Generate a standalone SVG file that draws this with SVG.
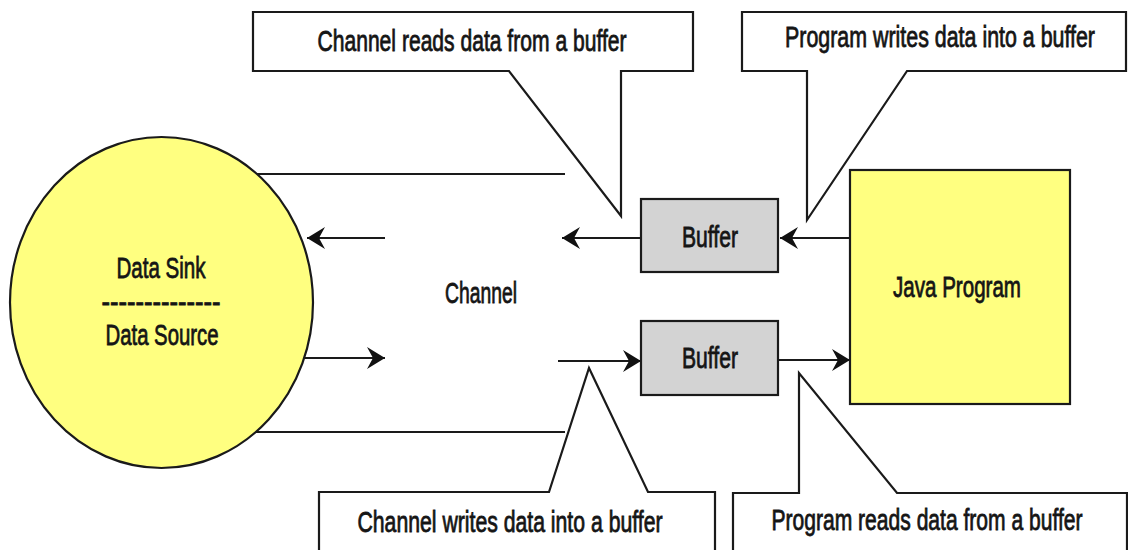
<svg xmlns="http://www.w3.org/2000/svg" width="1128" height="550" viewBox="0 0 1128 550">
<style>
.ln{stroke:#1a1a1a;stroke-width:2.2;fill:none}
.arr{marker-end:url(#ah)}
.co{fill:#ffffff;stroke:#1a1a1a;stroke-width:2.2;stroke-linejoin:miter}
.t{font-family:"Liberation Sans Narrow","Liberation Sans","DejaVu Sans Condensed",sans-serif;font-size:29px;fill:#151515;text-anchor:middle;stroke:#151515;stroke-width:0.8}
.yl{fill:#ffff80;stroke:#1a1a1a;stroke-width:2.2}
.gr{fill:#d3d3d3;stroke:#1a1a1a;stroke-width:2.2}
</style>
<defs>
<marker id="ah" markerUnits="userSpaceOnUse" viewBox="0 0 18 22" refX="18" refY="11" markerWidth="18" markerHeight="22" orient="auto">
<path d="M0,0 L18,11 L0,22 L6,11 Z" fill="#111"/>
</marker>
</defs>
<rect width="1128" height="550" fill="#ffffff"/>
<g id="connectors">
<line class="ln" x1="255" y1="174" x2="565" y2="174"/>
<line class="ln" x1="255" y1="432" x2="565" y2="432"/>
<line class="ln arr" x1="385" y1="238" x2="307" y2="238"/>
<line class="ln arr" x1="305" y1="358" x2="385" y2="358"/>
<line class="ln arr" x1="641" y1="238" x2="562" y2="238"/>
<line class="ln arr" x1="850" y1="238" x2="780" y2="238"/>
<line class="ln arr" x1="558" y1="361" x2="641" y2="361"/>
<line class="ln arr" x1="778" y1="360" x2="850" y2="360"/>
</g>
<g id="data-sink-source">
<ellipse class="yl" cx="161.5" cy="302.5" rx="151.5" ry="165.5"/>
<text class="t" x="161" y="278" textLength="89" lengthAdjust="spacingAndGlyphs">Data Sink</text>
<text class="t" x="161" y="312" textLength="119" lengthAdjust="spacingAndGlyphs">--------------</text>
<text class="t" x="162" y="345" textLength="113" lengthAdjust="spacingAndGlyphs">Data Source</text>
</g>
<g id="channel">
<text class="t" x="481" y="303" textLength="72" lengthAdjust="spacingAndGlyphs">Channel</text>
</g>
<g id="buffer-top">
<rect class="gr" x="641" y="199" width="137" height="73"/>
<text class="t" x="710" y="247" textLength="56" lengthAdjust="spacingAndGlyphs">Buffer</text>
</g>
<g id="buffer-bottom">
<rect class="gr" x="641" y="321" width="137" height="74"/>
<text class="t" x="710" y="368" textLength="56" lengthAdjust="spacingAndGlyphs">Buffer</text>
</g>
<g id="java-program">
<rect class="yl" x="850" y="170" width="220" height="234"/>
<text class="t" x="957" y="297" textLength="128" lengthAdjust="spacingAndGlyphs">Java Program</text>
</g>
<g id="callout-channel-reads">
<path class="co" d="M253,12 H693 V71 H621 V216 L509,71 H253 Z"/>
<text class="t" x="472" y="51" textLength="309" lengthAdjust="spacingAndGlyphs">Channel reads data from a buffer</text>
</g>
<g id="callout-program-writes">
<path class="co" d="M742,12 H1126 V71 H907 L807,220 V71 H742 Z"/>
<text class="t" x="940" y="47" textLength="310" lengthAdjust="spacingAndGlyphs">Program writes data into a buffer</text>
</g>
<g id="callout-channel-writes">
<path class="co" d="M319,556 V492 H549 L589,368 L648,492 H715 V556 Z"/>
<text class="t" x="510" y="532" textLength="305" lengthAdjust="spacingAndGlyphs">Channel writes data into a buffer</text>
</g>
<g id="callout-program-reads">
<path class="co" d="M733,556 V493 H799 V373 L897,493 H1127 V556 Z"/>
<text class="t" x="927" y="530" textLength="311" lengthAdjust="spacingAndGlyphs">Program reads data from a buffer</text>
</g>
</svg>
